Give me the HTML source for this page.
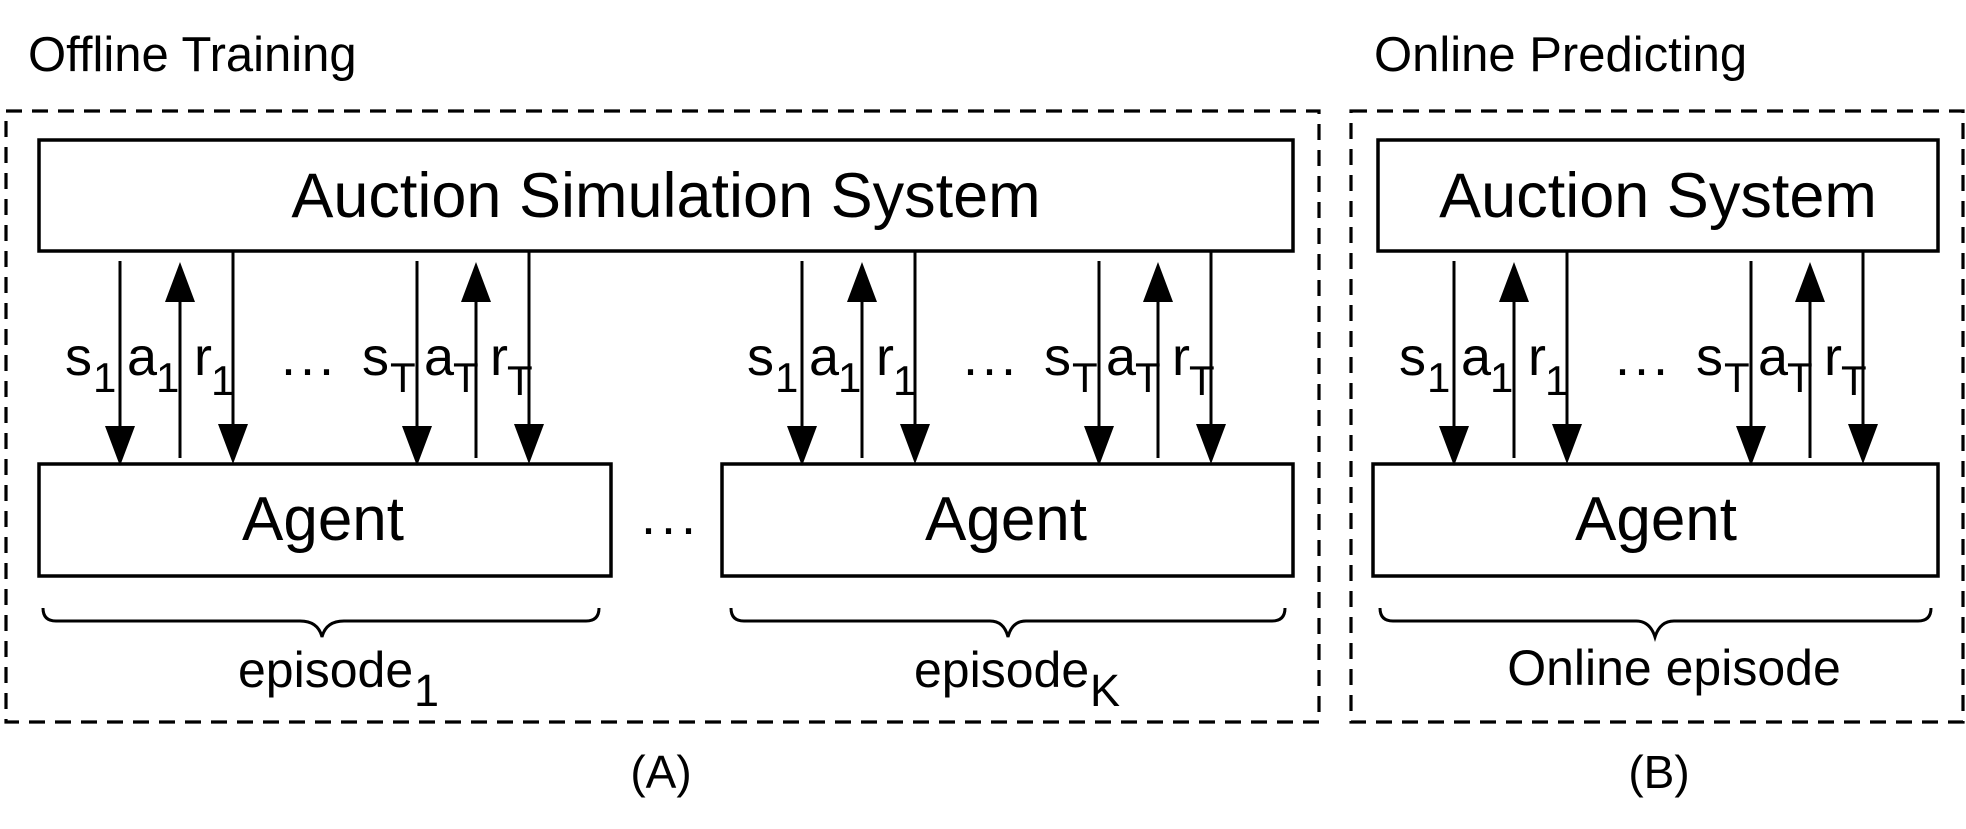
<!DOCTYPE html>
<html><head><meta charset="utf-8"><style>
html,body{margin:0;padding:0;background:#fff;}
svg{display:block;}
text{font-family:"Liberation Sans",sans-serif;fill:#000;}
</style></head><body>
<svg width="1966" height="829" viewBox="0 0 1966 829" xmlns="http://www.w3.org/2000/svg">
<defs>
<g id="ep">
  <line x1="120" y1="261" x2="120" y2="430" stroke="#000" stroke-width="3"/>
  <polygon points="105,426 135,426 120,466" fill="#000"/>
  <line x1="180" y1="458" x2="180" y2="296" stroke="#000" stroke-width="3"/>
  <polygon points="165,302 195,302 180,262" fill="#000"/>
  <line x1="233" y1="251" x2="233" y2="430" stroke="#000" stroke-width="3"/>
  <polygon points="218,424 248,424 233,464" fill="#000"/>
  <line x1="417" y1="261" x2="417" y2="430" stroke="#000" stroke-width="3"/>
  <polygon points="402,426 432,426 417,466" fill="#000"/>
  <line x1="476" y1="458" x2="476" y2="296" stroke="#000" stroke-width="3"/>
  <polygon points="461,302 491,302 476,262" fill="#000"/>
  <line x1="529" y1="251" x2="529" y2="430" stroke="#000" stroke-width="3"/>
  <polygon points="514,424 544,424 529,464" fill="#000"/>
  <text x="65" y="375" font-size="54">s</text><text x="93" y="392" font-size="42">1</text>
  <text x="127" y="375" font-size="54">a</text><text x="156" y="392" font-size="42">1</text>
  <text x="194" y="375" font-size="54">r</text><text x="211" y="395" font-size="42">1</text>
  <text x="281" y="375" font-size="54" letter-spacing="4">...</text>
  <text x="362" y="375" font-size="54">s</text><text x="390" y="392" font-size="42">T</text>
  <text x="424" y="375" font-size="54">a</text><text x="453" y="392" font-size="42">T</text>
  <text x="490" y="375" font-size="54">r</text><text x="507" y="395" font-size="42">T</text>
</g>
</defs>
<g fill="none" stroke="#000" stroke-width="3.2" stroke-dasharray="16,10">
  <rect x="6" y="111" width="1313" height="611"/>
  <rect x="1351" y="111" width="612" height="611"/>
</g>
<g fill="#fff" stroke="#000" stroke-width="3.5">
  <rect x="39" y="140" width="1254" height="111"/>
  <rect x="39" y="464" width="572" height="112"/>
  <rect x="722" y="464" width="571" height="112"/>
  <rect x="1378" y="140" width="560" height="111"/>
  <rect x="1373" y="464" width="565" height="112"/>
</g>
<use href="#ep"/>
<use href="#ep" transform="translate(682,0)"/>
<use href="#ep" transform="translate(1334,0)"/>
<text x="28" y="71" font-size="49">Offline Training</text>
<text x="1374" y="71" font-size="49">Online Predicting</text>
<text x="666" y="217" font-size="63" text-anchor="middle">Auction Simulation System</text>
<text x="1658" y="217" font-size="63" text-anchor="middle">Auction System</text>
<text x="323" y="540" font-size="62" text-anchor="middle">Agent</text>
<text x="1006" y="540" font-size="62" text-anchor="middle">Agent</text>
<text x="1656" y="540" font-size="62" text-anchor="middle">Agent</text>
<text x="641" y="534" font-size="54" letter-spacing="5">...</text>
<g fill="none" stroke="#000" stroke-width="3">
  <path d="M43,608 Q43,621 56,621 L300,621 Q318,621 322,637 Q326,621 344,621 L586,621 Q599,621 599,608"/>
  <path d="M731,608 Q731,621 744,621 L990,621 Q1004,621 1008,637 Q1012,621 1026,621 L1272,621 Q1285,621 1285,608"/>
  <path d="M1380,608 Q1380,621 1393,621 L1636,621 Q1650,621 1655,637 Q1660,621 1674,621 L1918,621 Q1931,621 1931,608"/>
</g>
<text x="238" y="687" font-size="50">episode</text><text x="414" y="706" font-size="45">1</text>
<text x="914" y="687" font-size="50">episode</text><text x="1090" y="706" font-size="45">K</text>
<text x="1674" y="685" font-size="50" text-anchor="middle">Online episode</text>
<text x="661" y="788" font-size="46" text-anchor="middle">(A)</text>
<text x="1659" y="788" font-size="46" text-anchor="middle">(B)</text>
</svg>
</body></html>
